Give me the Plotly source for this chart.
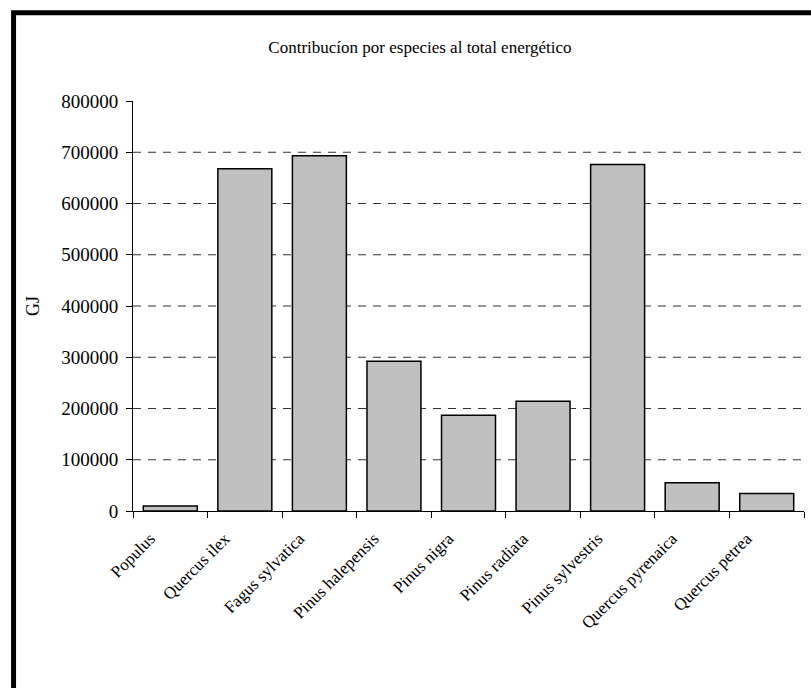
import plotly.graph_objects as go

species = ["Populus", "Quercus ilex", "Fagus sylvatica", "Pinus halepensis", "Pinus nigra",
           "Pinus radiata", "Pinus sylvestris", "Quercus pyrenaica", "Quercus petrea"]
energy_gj = [10000, 668000, 693000, 292000, 187000, 214000, 676000, 55000, 34000]
y_ticks = [0, 100000, 200000, 300000, 400000, 500000, 600000, 700000, 800000]
grid_vals = [100000, 200000, 300000, 400000, 500000, 600000, 700000]

FONT = "Liberation Serif"

fig = go.Figure()
fig.add_trace(go.Bar(
    x=species, y=energy_gj,
    marker=dict(color="#C0C0C0", line=dict(color="black", width=1.5)),
    hoverinfo="x+y",
))

shapes = []
for g in grid_vals:
    shapes.append(dict(type="line", xref="paper", yref="y", x0=0, x1=1, y0=g, y1=g,
                       line=dict(color="#333333", width=1, dash="8px,7px"), layer="below"))
# page frame (top and left edges)
shapes.append(dict(type="rect", xref="paper", yref="paper", x0=-0.178, x1=1.6, y0=-0.6, y1=1.2151,
                   line=dict(color="black", width=5), fillcolor="rgba(0,0,0,0)", layer="above"))

fig.update_layout(
    width=811, height=688,
    margin=dict(l=133, r=7, t=101, b=177),
    paper_bgcolor="white", plot_bgcolor="white",
    font=dict(family=FONT, color="black", size=19),
    title=dict(text="Contribucíon por especies al total energético",
               x=0.4277, xref="paper", xanchor="center",
               y=1 - 47 / 688, yref="container", yanchor="middle",
               font=dict(family=FONT, size=17, color="black")),
    bargap=0.276,
    showlegend=False,
    shapes=shapes,
    xaxis=dict(type="category", tickson="boundaries", ticks="outside", ticklen=6,
               tickcolor="black", showline=True, linecolor="black", linewidth=1,
               tickangle=-45, tickfont=dict(family=FONT, size=17), showgrid=False,
               ticklabelshift=-20, ticklabelstandoff=10),
    yaxis=dict(range=[0, 800000], tickvals=y_ticks, ticktext=[str(v) for v in y_ticks],
               ticks="outside", ticklen=6, tickcolor="black", ticklabelstandoff=4,
               showline=True, linecolor="black", linewidth=1, showgrid=False, zeroline=False,
               tickfont=dict(family=FONT, size=19),
               title=dict(text="GJ", font=dict(family=FONT, size=18), standoff=16)),
)

fig.write_html("out.html")
